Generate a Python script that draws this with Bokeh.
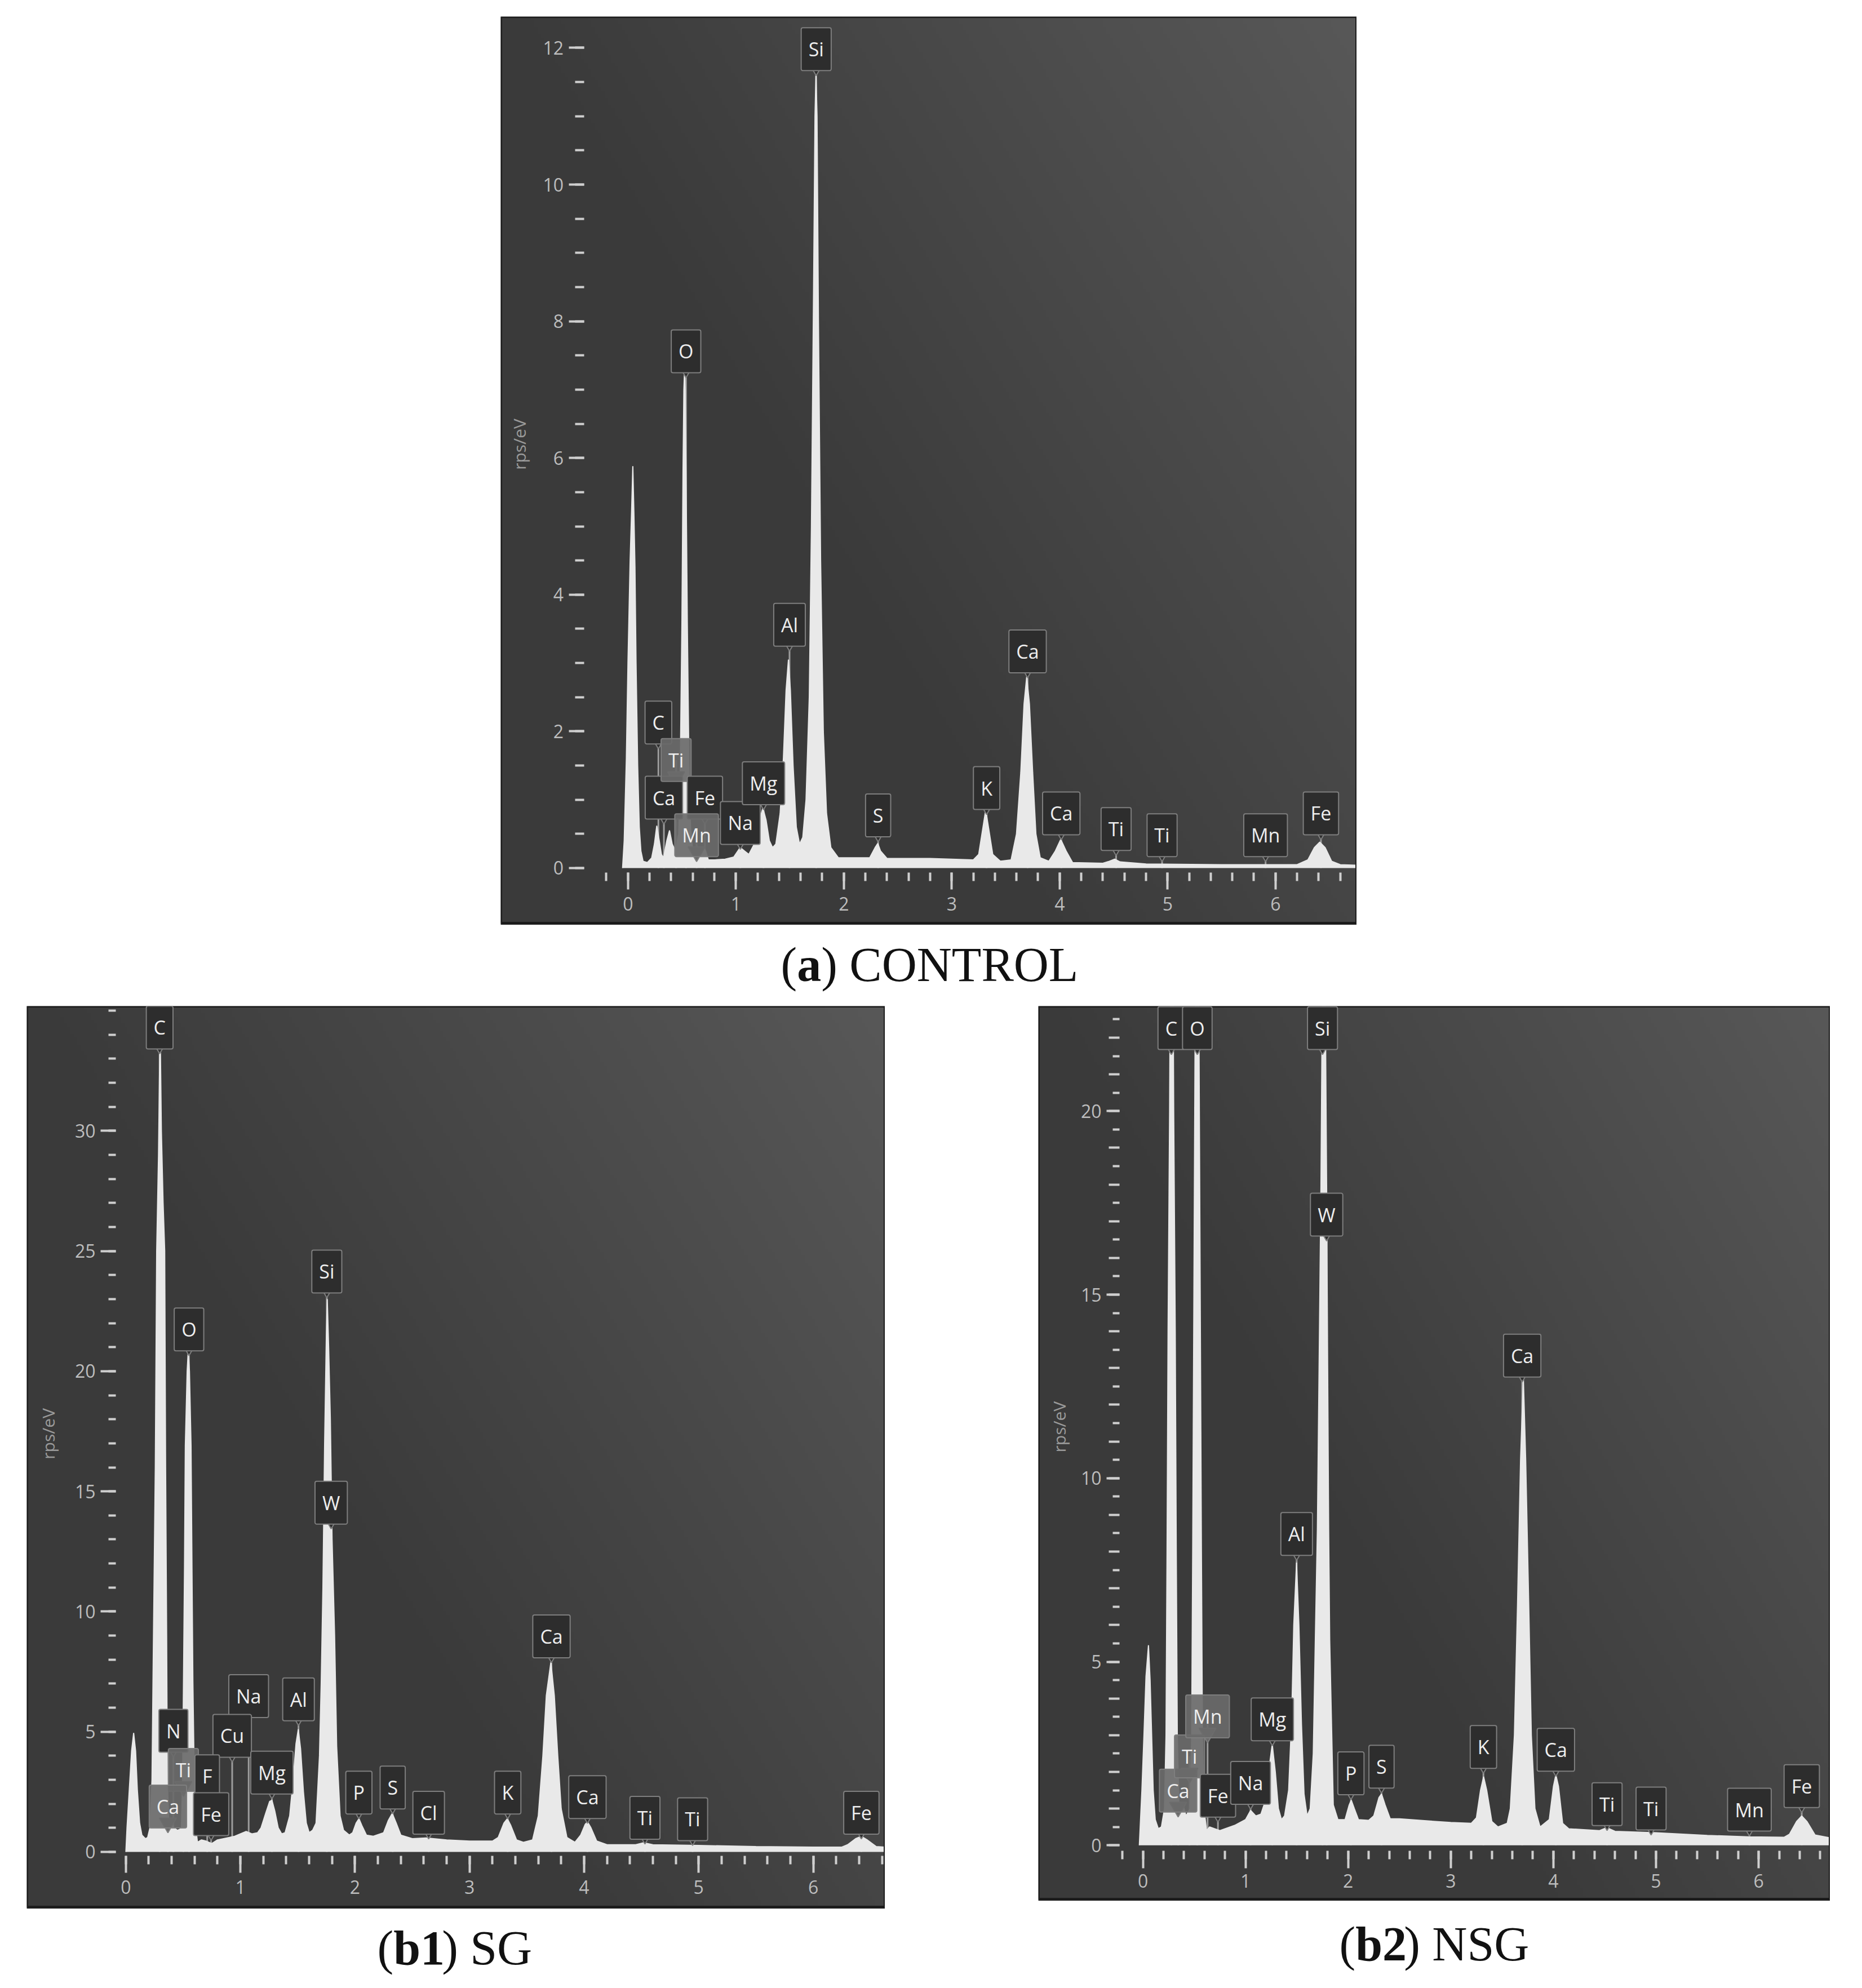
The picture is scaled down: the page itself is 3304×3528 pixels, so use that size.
import math
import numpy as np
from bokeh.plotting import figure
from bokeh.models import Range1d, LinearAxis, FixedTicker, Label, Spacer, CustomJSTickFormatter
from bokeh.layouts import row, column
from bokeh.embed import file_html
from bokeh.resources import INLINE

# ---------------- (a) CONTROL ----------------
a_energy = [-0.05, -0.035, -0.015, 0.0, 0.02, 0.035, 0.045, 0.055, 0.065, 0.075,
            0.09, 0.105, 0.12, 0.14, 0.18, 0.22, 0.245, 0.267, 0.29, 0.31,
            0.33, 0.36, 0.385, 0.41, 0.44, 0.47, 0.485, 0.50, 0.51, 0.518,
            0.524, 0.53, 0.538, 0.55, 0.565, 0.58, 0.60, 0.625, 0.645, 0.665,
            0.70, 0.72, 0.745, 0.80, 0.90, 0.98, 1.04, 1.08, 1.12, 1.17,
            1.21, 1.25, 1.28, 1.31, 1.34, 1.37, 1.41, 1.44, 1.465, 1.487,
            1.505, 1.53, 1.56, 1.59, 1.62, 1.65, 1.68, 1.70, 1.72, 1.733,
            1.742, 1.752, 1.765, 1.785, 1.81, 1.84, 1.88, 1.95, 2.10, 2.24,
            2.29, 2.315, 2.34, 2.40, 2.80, 3.20, 3.25, 3.29, 3.315, 3.34,
            3.38, 3.45, 3.55, 3.60, 3.64, 3.67, 3.695, 3.72, 3.75, 3.78,
            3.82, 3.90, 3.96, 4.01, 4.06, 4.12, 4.40, 4.46, 4.51, 4.56,
            4.80, 5.50, 6.20, 6.30, 6.36, 6.41, 6.46, 6.52, 6.60, 6.76]
a_counts = [0.0, 0.4, 1.6, 3.0, 4.5, 5.3, 5.88, 5.2, 4.4, 3.0,
            1.5, 0.6, 0.25, 0.1, 0.08, 0.15, 0.35, 0.62, 0.4, 0.2,
            0.15, 0.4, 0.55, 0.35, 0.25, 0.5, 1.5, 3.6, 5.8, 7.0,
            7.28, 7.0, 5.8, 3.6, 1.5, 0.6, 0.25, 0.2, 0.32, 0.15,
            0.3, 0.25, 0.12, 0.12, 0.13, 0.16, 0.3, 0.25, 0.2, 0.35,
            0.65, 0.88, 0.7, 0.4, 0.3, 0.35, 0.8, 1.6, 2.6, 3.05,
            2.6, 1.5, 0.6, 0.35, 0.45, 1.0, 2.5, 5.0, 8.5, 11.0,
            11.62, 11.0, 8.0, 4.5, 2.0, 0.8, 0.3, 0.15, 0.15, 0.15,
            0.3, 0.36, 0.25, 0.14, 0.14, 0.12, 0.2, 0.6, 0.85, 0.6,
            0.2, 0.1, 0.12, 0.5, 1.4, 2.4, 2.8, 2.4, 1.4, 0.5,
            0.15, 0.1, 0.25, 0.42, 0.25, 0.08, 0.07, 0.1, 0.13, 0.09,
            0.06, 0.05, 0.05, 0.12, 0.3, 0.38, 0.3, 0.1, 0.05, 0.04]
a_names = ["Si", "O", "Al", "Ca", "C", "Ca", "Ti", "Fe", "Mn", "Na", "Mg", "S", "K",
           "Ca", "Ti", "Ti", "Mn", "Fe"]
a_mark_e = [1.744, 0.538, 1.497, 3.703, 0.282, 0.333, 0.446, 0.713, 0.636, 1.041, 1.256,
            2.318, 3.323, 4.015, 4.523, 4.949, 5.908, 6.421]
a_mark_y = [11.98, 7.56, 3.56, 3.17, 2.13, 1.03, 1.58, 1.03, 0.48, 0.66, 1.24,
            0.77, 1.17, 0.80, 0.57, 0.48, 0.48, 0.80]
a_y_major = [0, 2, 4, 6, 8, 10, 12]
a_y_minor = [0.5 * i for i in range(25)]
a_x_major = [0, 1, 2, 3, 4, 5, 6]
a_x_minor = [round(-0.2 + 0.2 * i, 1) for i in range(35)]

# ---------------- (b1) SG ----------------
b1_energy = [0.0, 0.01, 0.03, 0.05, 0.068, 0.085, 0.10, 0.12, 0.14, 0.17,
             0.19, 0.21, 0.228, 0.241, 0.257, 0.269, 0.285, 0.295, 0.30, 0.31,
             0.325, 0.339, 0.347, 0.356, 0.362, 0.375, 0.39, 0.42, 0.45, 0.475,
             0.485, 0.495, 0.503, 0.512, 0.519, 0.535, 0.544, 0.555, 0.569, 0.577,
             0.585, 0.597, 0.61, 0.625, 0.66, 0.70, 0.75, 0.80, 0.90, 0.95,
             1.00, 1.05, 1.10, 1.15, 1.18, 1.22, 1.255, 1.275, 1.30, 1.33,
             1.36, 1.39, 1.43, 1.46, 1.485, 1.505, 1.525, 1.55, 1.575, 1.60,
             1.63, 1.66, 1.69, 1.705, 1.72, 1.735, 1.75, 1.758, 1.77, 1.785,
             1.80, 1.822, 1.84, 1.87, 1.90, 1.95, 1.98, 2.01, 2.035, 2.06,
             2.10, 2.16, 2.25, 2.29, 2.325, 2.36, 2.40, 2.50, 2.62, 2.80,
             3.00, 3.20, 3.25, 3.30, 3.33, 3.36, 3.41, 3.47, 3.55, 3.60,
             3.64, 3.67, 3.71, 3.74, 3.77, 3.80, 3.85, 3.92, 3.97, 4.01,
             4.03, 4.06, 4.11, 4.20, 4.45, 4.52, 4.60, 5.00, 5.50, 6.00,
             6.25, 6.30, 6.37, 6.42, 6.47, 6.55, 6.63]
b1_counts = [0.0, 1.0, 2.6, 4.2, 4.95, 4.2, 2.6, 1.2, 0.7, 0.55,
             0.6, 1.0, 3.0, 9.0, 16.0, 25.0, 29.0, 33.0, 34.0, 30.0,
             27.0, 25.0, 16.0, 9.0, 3.0, 1.2, 1.3, 1.0, 0.9, 0.95,
             1.0, 3.0, 7.1, 11.9, 16.9, 20.0, 20.8, 20.0, 16.9, 11.9,
             7.1, 3.0, 1.0, 0.4, 0.5, 0.45, 0.35, 0.5, 0.6, 0.65,
             0.75, 0.85, 0.75, 0.8, 1.0, 1.6, 2.1, 2.15, 1.7, 1.0,
             0.75, 0.8, 1.5, 3.0, 4.5, 5.1, 4.3, 2.5, 1.2, 0.8,
             0.9, 1.2, 4.0, 7.0, 11.0, 17.0, 21.5, 23.0, 21.0, 18.0,
             13.0, 9.0, 4.4, 1.5, 0.9, 0.7, 0.8, 1.2, 1.38, 1.1,
             0.7, 0.65, 0.8, 1.3, 1.6, 1.2, 0.7, 0.55, 0.58, 0.5,
             0.45, 0.45, 0.6, 1.2, 1.38, 1.1, 0.5, 0.4, 0.5, 1.5,
             4.0, 6.5, 7.9, 6.5, 4.0, 1.8, 0.6, 0.4, 0.7, 1.15,
             1.25, 1.0, 0.45, 0.3, 0.3, 0.38, 0.3, 0.27, 0.22, 0.2,
             0.2, 0.3, 0.55, 0.65, 0.5, 0.22, 0.2]
b1_names = ["C", "O", "Si", "W", "Ca", "Al", "Na", "N", "Cu", "Ti", "F", "Mg",
            "Ca", "Fe", "P", "S", "Cl", "K", "Ca", "Ti", "Ti", "Fe"]
b1_mark_e = [0.295, 0.551, 1.754, 1.792, 3.715, 1.507, 1.072, 0.415, 0.928, 0.502, 0.710,
             1.275, 0.367, 0.744, 2.034, 2.329, 2.643, 3.333, 4.029, 4.531, 4.947, 6.420]
b1_mark_y = [34.3, 21.74, 24.15, 14.53, 8.97, 6.35, 6.48, 5.04, 4.83, 3.41, 3.15,
             3.30, 1.89, 1.57, 2.47, 2.68, 1.63, 2.47, 2.28, 1.42, 1.36, 1.63]
b1_y_major = [0, 5, 10, 15, 20, 25, 30]
b1_y_minor = list(range(0, 36))
b1_x_major = [0, 1, 2, 3, 4, 5, 6]
b1_x_minor = [round(0.2 * i, 1) for i in range(34)]

# ---------------- (b2) NSG ----------------
b2_energy = [-0.035, -0.01, 0.01, 0.03, 0.054, 0.07, 0.085, 0.10, 0.12, 0.15,
             0.18, 0.21, 0.225, 0.235, 0.245, 0.26, 0.27, 0.28, 0.29, 0.30,
             0.315, 0.325, 0.335, 0.35, 0.37, 0.39, 0.42, 0.44, 0.46, 0.475,
             0.485, 0.495, 0.505, 0.515, 0.527, 0.54, 0.55, 0.56, 0.57, 0.58,
             0.595, 0.62, 0.65, 0.70, 0.75, 0.80, 0.90, 1.00, 1.05, 1.10,
             1.15, 1.18, 1.22, 1.26, 1.29, 1.32, 1.35, 1.38, 1.42, 1.45,
             1.47, 1.497, 1.52, 1.545, 1.57, 1.60, 1.63, 1.66, 1.68, 1.70,
             1.717, 1.735, 1.75, 1.76, 1.775, 1.79, 1.80, 1.81, 1.82, 1.855,
             1.90, 1.97, 2.01, 2.03, 2.06, 2.10, 2.20, 2.25, 2.30, 2.325,
             2.36, 2.41, 2.50, 2.80, 3.00, 3.20, 3.25, 3.29, 3.32, 3.35,
             3.40, 3.46, 3.55, 3.58, 3.62, 3.65, 3.68, 3.707, 3.73, 3.76,
             3.785, 3.82, 3.87, 3.96, 4.00, 4.024, 4.05, 4.09, 4.15, 4.45,
             4.52, 4.60, 5.00, 5.50, 5.90, 6.25, 6.30, 6.37, 6.42, 6.47,
             6.55, 6.70]
b2_counts = [0.0, 1.5, 3.0, 4.6, 5.45, 4.5, 3.0, 1.5, 0.7, 0.45,
             0.5, 1.0, 3.0, 8.0, 14.0, 20.0, 26.0, 30.0, 26.0, 20.0,
             14.0, 8.0, 3.0, 1.2, 0.9, 1.1, 0.8, 0.9, 1.0, 3.0,
             8.0, 14.0, 20.0, 26.0, 30.0, 26.0, 20.0, 14.0, 8.0, 3.0,
             1.0, 0.4, 0.5, 0.45, 0.4, 0.45, 0.55, 0.7, 0.95, 0.8,
             0.85, 1.1, 1.9, 2.75, 2.0, 1.0, 0.7, 0.8, 1.5, 3.5,
             6.0, 7.7, 6.0, 3.3, 1.4, 0.8, 1.0, 2.5, 5.6, 8.6,
             13.1, 18.0, 24.0, 27.0, 24.0, 18.0, 13.1, 8.6, 5.6, 1.1,
             0.7, 0.7, 1.1, 1.23, 1.0, 0.7, 0.68, 0.8, 1.3, 1.4,
             1.1, 0.72, 0.72, 0.66, 0.62, 0.6, 0.75, 1.5, 1.87, 1.5,
             0.65, 0.5, 0.6, 1.0, 3.0, 6.5, 10.5, 12.75, 10.5, 6.5,
             3.0, 1.0, 0.5, 0.7, 1.6, 1.92, 1.6, 0.6, 0.45, 0.4,
             0.48, 0.38, 0.34, 0.27, 0.23, 0.22, 0.3, 0.65, 0.8, 0.65,
             0.28, 0.2]
b2_names = ["C", "O", "Si", "W", "Ca", "Al", "Mg", "Ca", "Ti", "Mn", "Fe", "Na",
            "P", "S", "K", "Ca", "Ti", "Ti", "Mn", "Fe"]
b2_mark_e = [0.277, 0.530, 1.750, 1.790, 3.696, 1.498, 1.261, 0.343, 0.454, 0.630,
             0.731, 1.049, 2.027, 2.325, 3.318, 4.024, 4.523, 4.952, 5.910, 6.420]
b2_mark_y = [22.26, 22.26, 22.26, 17.18, 13.34, 8.48, 3.43, 1.49, 2.42, 3.51,
             1.35, 1.70, 1.96, 2.14, 2.68, 2.60, 1.12, 1.00, 0.97, 1.61]
b2_y_major = [0, 5, 10, 15, 20]
b2_y_minor = list(range(0, 23))
b2_y_half = [0.5 + i for i in range(23)]
b2_x_major = [0, 1, 2, 3, 4, 5, 6]
b2_x_minor = [round(-0.2 + 0.2 * i, 1) for i in range(35)]

# ---------------- styling ----------------
SPEC = "#e9e9e9"
BOX = "#2d2d2d"
LIT = "#6a6a6a"
BOX_LINE = "#7e7e7e"
TICK = "#cfcfcf"
TICK_LABEL = "#bdbdbd"
UI_FONT = "Open Sans"
BOX_H = 63


def gradient():
    n = 256
    xf = np.linspace(0.0, 1.0, n)[None, :]
    yf = np.linspace(0.0, 1.0, n)[:, None]
    t = np.clip(0.8 * xf + 0.5 * yf - 0.5, 0.0, 0.8) / 0.8
    v = (58 + 30 * t).astype(np.uint8)
    img = np.empty((n, n), dtype=np.uint32)
    view = img.view(dtype=np.uint8).reshape((n, n, 4))
    view[:, :, 0] = v
    view[:, :, 1] = v
    view[:, :, 2] = v
    view[:, :, 3] = 255
    return img


def build(g, energy, counts, names, m_e, m_y, lit, y_major, y_minor, y_half,
          x_major, x_minor, yaxis_at, xaxis_at, ytl, xtl, ylab_pos, caption,
          top_border, x_standoff):
    ppk = g["w"] / (g["x1"] - g["x0"])
    ppu = g["h"] / (g["y1"] - g["y0"])
    frame_h = g["bottom"] - g["top"]
    y_start = g["y1"] - frame_h / ppu
    p = figure(width=g["w"], height=frame_h + top_border,
               x_range=Range1d(g["x0"], g["x1"]), y_range=Range1d(y_start, g["y1"]),
               x_axis_location=None, y_axis_location=None,
               toolbar_location=None, output_backend="svg",
               min_border=0, min_border_top=top_border,
               background_fill_color="#ffffff", border_fill_color="#ffffff",
               outline_line_color=None)
    p.grid.grid_line_color = None
    p.grid.visible = False

    # dark panel
    p.image_rgba(image=[gradient()], x=g["x0"], y=g["y0"],
                 dw=g["x1"] - g["x0"], dh=g["y1"] - g["y0"])

    # pointer lines (hidden by the spectrum where it is higher)
    p.segment(x0=m_e, y0=m_y, x1=m_e, y1=[0.0] * len(m_e),
              line_color="#9c9c9c", line_width=3)

    # spectrum
    p.varea(x=energy, y1=[0.0] * len(energy), y2=counts, fill_color=SPEC)
    p.line(x=energy, y=counts, line_color=SPEC, line_width=2)

    # panel edge
    p.quad(left=g["x0"], right=g["x1"], bottom=g["y0"], top=g["y1"],
           fill_color=None, line_color="#1c1c1c", line_width=5)

    # notches under the boxes
    fills = [LIT if i in lit else BOX for i in range(len(names))]
    tri_y = [y - (BOX_H / 2 - 2) / ppu for y in m_y]
    p.scatter(x=m_e, y=tri_y, marker="inverted_triangle", size=30,
              fill_color=fills, line_color=BOX_LINE, line_width=2)

    for i, (nm, e, y) in enumerate(zip(names, m_e, m_y)):
        is_lit = i in lit
        p.add_layout(Label(x=e, y=y, text=nm, text_align="center", text_baseline="middle",
                           text_font=UI_FONT, text_font_size="34px", text_color="#eeeeee",
                           background_fill_color=LIT if is_lit else BOX,
                           background_fill_alpha=0.92 if is_lit else 1.0,
                           border_line_color=BOX_LINE, border_line_width=2,
                           border_radius=3, padding=(13, 15)))

    yax = LinearAxis(fixed_location=yaxis_at,
                     ticker=FixedTicker(ticks=y_major, minor_ticks=y_minor),
                     axis_line_color=None,
                     major_tick_line_color=TICK, major_tick_line_width=4,
                     minor_tick_line_color=TICK, minor_tick_line_width=4,
                     major_tick_out=ytl[0], major_tick_in=0,
                     minor_tick_out=ytl[1], minor_tick_in=0,
                     major_label_text_font=UI_FONT, major_label_text_font_size="32px",
                     major_label_text_color=TICK_LABEL, major_label_standoff=9)
    p.add_layout(yax, "left")
    if y_half:
        yax2 = LinearAxis(fixed_location=yaxis_at,
                          ticker=FixedTicker(ticks=y_half, minor_ticks=[]),
                          axis_line_color=None,
                          major_tick_line_color=TICK, major_tick_line_width=4,
                          major_tick_out=ytl[2], major_tick_in=0,
                          minor_tick_line_color=None,
                          formatter=CustomJSTickFormatter(code="return ''"))
        p.add_layout(yax2, "left")

    xax = LinearAxis(fixed_location=xaxis_at,
                     ticker=FixedTicker(ticks=x_major, minor_ticks=x_minor),
                     axis_line_color=None,
                     major_tick_line_color=TICK, major_tick_line_width=4,
                     minor_tick_line_color=TICK, minor_tick_line_width=4,
                     major_tick_out=xtl[0], major_tick_in=0,
                     minor_tick_out=xtl[1], minor_tick_in=0,
                     major_label_text_font=UI_FONT, major_label_text_font_size="32px",
                     major_label_text_color=TICK_LABEL, major_label_standoff=x_standoff)
    p.add_layout(xax, "below")

    p.add_layout(Label(x=ylab_pos[0], y=ylab_pos[1], text="rps/eV", angle=math.pi / 2,
                       text_align="center", text_baseline="middle", text_font=UI_FONT,
                       text_font_size="30px", text_color="#9a9a9a"))

    # caption (page pixel position converted to the panel's data coordinates)
    parts, left_px, base_px = caption
    fs = 86
    xpix = left_px
    for txt, bold, adv in parts:
        xd = g["x0"] + (xpix - g["left"]) / ppk
        yd = g["y1"] - (base_px - g["top"]) / ppu
        p.add_layout(Label(x=xd, y=yd, text=txt, text_align="left",
                           text_baseline="alphabetic", text_font="Liberation Serif",
                           text_font_size=f"{fs}px", text_color="#111111",
                           text_font_style="bold" if bold else "normal"))
        xpix += adv * fs
    return p


GA = dict(left=888, top=29, w=1519, h=1609, bottom=1771,
          x0=-1.179, x1=6.753, y0=-0.808, y1=12.457)
GB1 = dict(left=47, top=1771, w=1523, h=1612, bottom=3520,
           x0=-0.865, x1=6.627, y0=-2.30, y1=35.19)
GB2 = dict(left=1842, top=1785, w=1405, h=1585, bottom=3520,
           x0=-1.019, x1=6.697, y0=-1.47, y1=22.86)

pa = build(GA, a_energy, a_counts, a_names, a_mark_e, a_mark_y, {6, 8},
           a_y_major, a_y_minor, None, a_x_major, a_x_minor,
           -0.408, -0.066, (27, 16), (30, 15), (-1.007, 6.2),
           ([("(", False, 0.333), ("a", True, 0.5), (") CONTROL", False, 0)], 1385, 1711),
           29, 14)

pb1 = build(GB1, b1_energy, b1_counts, b1_names, b1_mark_e, b1_mark_y, {9, 12},
            b1_y_major, b1_y_minor, None, b1_x_major, b1_x_minor,
            -0.087, -0.158, (27, 13), (30, 15), (-0.68, 17.4),
            ([("(", False, 0.333), ("b1", True, 1.0), (") SG", False, 0)], 669, 3456),
            0, 14)

pb2 = build(GB2, b2_energy, b2_counts, b2_names, b2_mark_e, b2_mark_y, {7, 8, 9},
            b2_y_major, b2_y_minor, b2_y_half, b2_x_major, b2_x_minor,
            -0.228, -0.155, (23, 19, 12), (31, 15), (-0.815, 11.4),
            ([("(", False, 0.333), ("b2", True, 1.0), (") NSG", False, 0)], 2376, 3449),
            14, 10)

layout = column(
    row(Spacer(width=888, height=10), pa),
    row(Spacer(width=47, height=10), pb1, Spacer(width=272, height=10), pb2),
)

open("out.html", "w").write(file_html(layout, INLINE))
